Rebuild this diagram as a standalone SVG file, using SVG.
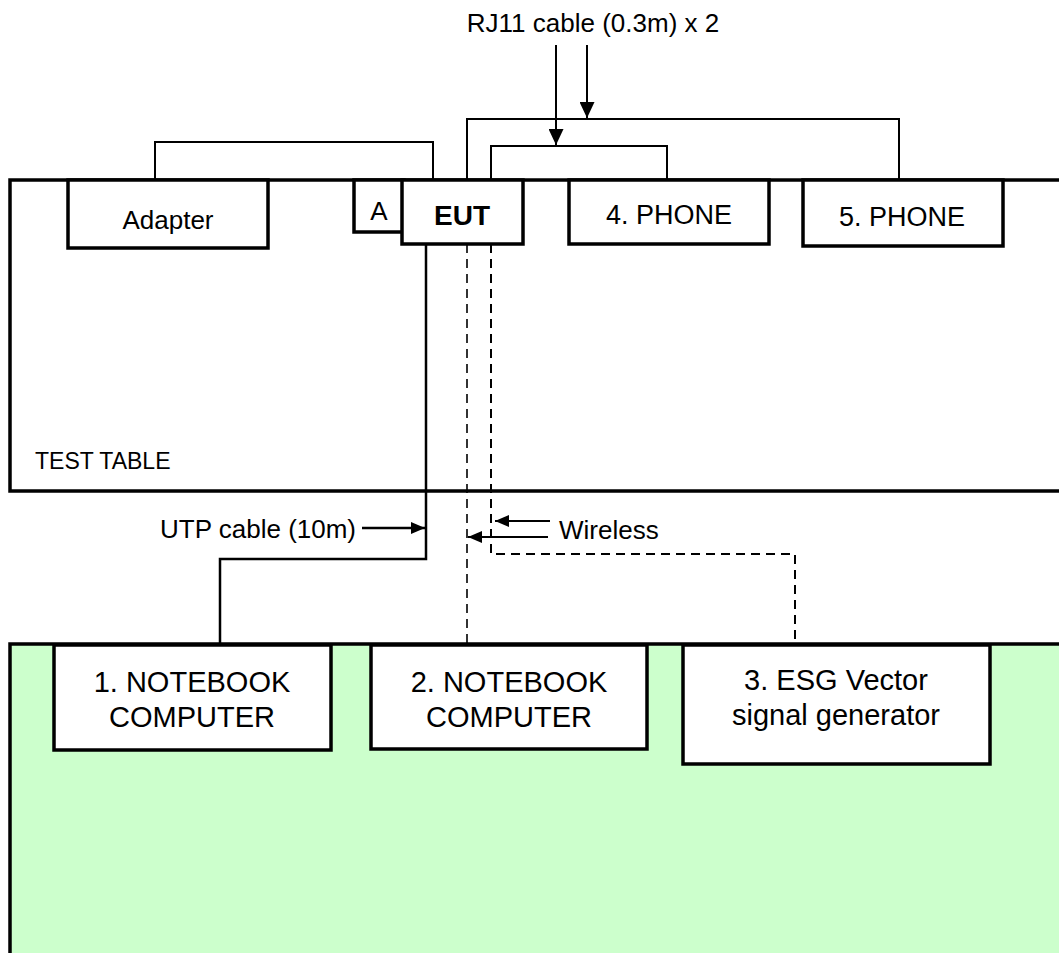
<svg xmlns="http://www.w3.org/2000/svg" width="1059" height="953" viewBox="0 0 1059 953">
<defs>
<style>
text{font-family:"Liberation Sans",Arial,sans-serif;fill:#000}
.box{fill:#fff;stroke:#000;stroke-width:3.5}
.area{stroke:#000;stroke-width:3.5}
.cable{fill:none;stroke:#000;stroke-width:2}
.dash{fill:none;stroke:#000;stroke-width:2;stroke-dasharray:9,6}
.lbl{font-size:26px}
.big{font-size:29px;text-anchor:middle}
.mid{font-size:27px;text-anchor:middle}
</style>
<marker id="ah" viewBox="0 0 14 12" refX="14" refY="6" markerWidth="14" markerHeight="12" markerUnits="userSpaceOnUse" orient="auto">
<path d="M0,0 L14,6 L0,12 Z" fill="#000"/>
</marker>
<marker id="ahb" viewBox="0 0 16 15" refX="16" refY="7.5" markerWidth="16" markerHeight="15" markerUnits="userSpaceOnUse" orient="auto">
<path d="M0,0 L16,7.5 L0,15 Z" fill="#000"/>
</marker>
</defs>
<rect width="1059" height="953" fill="#fff"/>

<g id="test-table">
<rect class="area" x="10" y="180" width="1070" height="311" fill="#fff"/>
<text class="lbl" x="35" y="469" style="font-size:23px">TEST TABLE</text>
</g>
<g id="lab-floor">
<rect class="area" x="10" y="644" width="1070" height="330" fill="#CCFFCC"/>
</g>

<g id="connectors">
<path class="cable" d="M155,180 V142 H433 V180"/>
<path class="cable" d="M467,180 V119 H899 V180"/>
<path class="cable" d="M491,180 V146 H667 V180"/>
<line class="cable" x1="556" y1="45" x2="556" y2="145" marker-end="url(#ahb)"/>
<line class="cable" x1="587" y1="45" x2="587" y2="118" marker-end="url(#ahb)"/>
<path class="cable" d="M426,244 V559 H220 V644" style="stroke-width:2.5"/>
<line class="cable" x1="362" y1="528" x2="425" y2="528" style="stroke-width:2.5" marker-end="url(#ah)"/>
<path class="dash" d="M467,244 V644" style="stroke-width:1.6"/>
<path class="dash" d="M491,244 V554 H795 V644"/>
<line class="cable" x1="550" y1="521" x2="495" y2="521" marker-end="url(#ah)"/>
<line class="cable" x1="548" y1="537" x2="468" y2="537" marker-end="url(#ah)"/>
<text class="lbl" x="593" y="32" text-anchor="middle">RJ11 cable (0.3m) x 2</text>
<text class="lbl" x="160" y="538">UTP cable (10m)</text>
<text class="lbl" x="559" y="539">Wireless</text>
</g>

<g id="adapter">
<rect class="box" x="68" y="180" width="200" height="68"/>
<text class="lbl" x="168" y="229" text-anchor="middle">Adapter</text>
</g>
<g id="a">
<rect class="box" x="354" y="180" width="50" height="52"/>
<text class="lbl" x="379" y="220" text-anchor="middle">A</text>
</g>
<g id="eut">
<rect class="box" x="402" y="180" width="121" height="64"/>
<text x="462" y="225" text-anchor="middle" style="font-size:28px;font-weight:bold">EUT</text>
</g>
<g id="phone4">
<rect class="box" x="569" y="180" width="200" height="64"/>
<text class="mid" x="669" y="224">4. PHONE</text>
</g>
<g id="phone5">
<rect class="box" x="803" y="180" width="200" height="66"/>
<text class="mid" x="902" y="226">5. PHONE</text>
</g>

<g id="notebook1">
<rect class="box" x="54" y="645" width="277" height="105"/>
<text class="big" x="192" y="692">1. NOTEBOOK</text>
<text class="big" x="192" y="727">COMPUTER</text>
</g>
<g id="notebook2">
<rect class="box" x="371" y="645" width="276" height="104"/>
<text class="big" x="509" y="692">2. NOTEBOOK</text>
<text class="big" x="509" y="727">COMPUTER</text>
</g>
<g id="esg">
<rect class="box" x="683" y="645" width="307" height="119"/>
<text class="big" x="836" y="690">3. ESG Vector</text>
<text class="big" x="836" y="725">signal generator</text>
</g>
</svg>
